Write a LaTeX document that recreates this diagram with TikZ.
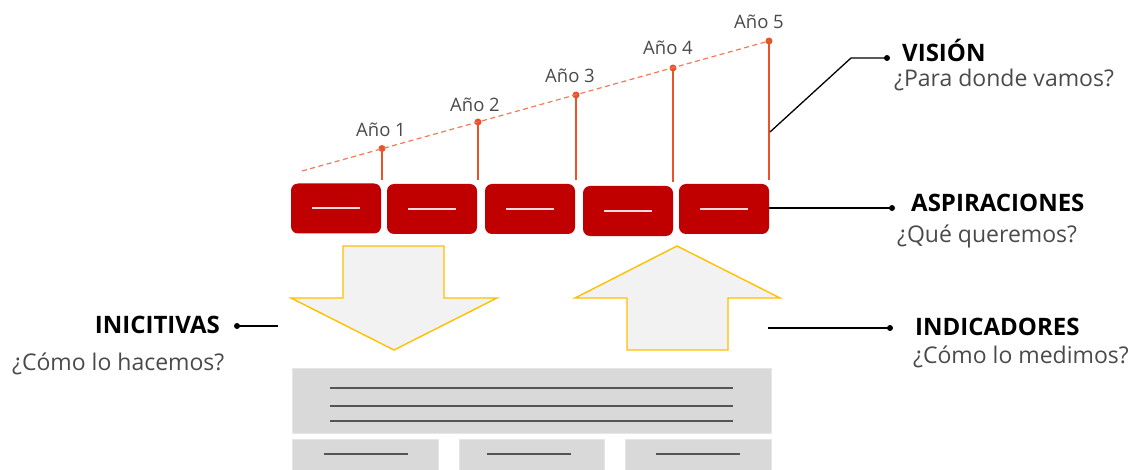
\documentclass[tikz,border=0pt]{standalone}
\usepackage{fontspec}
\setmainfont{Open Sans}
\usetikzlibrary{calc}
\definecolor{aspred}{HTML}{C00000}
\definecolor{yearred}{HTML}{E9532B}
\definecolor{yeardashc}{HTML}{F07A5A}
\definecolor{arrowyellow}{HTML}{FFC000}
\definecolor{arrowfill}{HTML}{F2F2F2}
\definecolor{panelgray}{HTML}{D9D9D9}
\definecolor{paneledge}{HTML}{E6E6E6}
\definecolor{linegray}{HTML}{555555}
\definecolor{lighttext}{HTML}{4A4A4A}
\begin{document}
\begin{tikzpicture}[x=1pt,y=-1pt,
  aspbox/.style={fill=aspred, rounded corners=7pt, minimum width=90pt, minimum height=50pt, inner sep=0pt},
  aspdash/.style={white!85!aspred, line width=2pt},
  yeardot/.style={circle, fill=yearred, inner sep=0pt, minimum size=7pt},
  yearline/.style={yearred, line width=1.4pt},
  yeardash/.style={yeardashc, line width=1.2pt, dash pattern=on 5pt off 3.5pt},
  yearlabel/.style={anchor=base, text=lighttext, font=\fontsize{18.5}{22}\selectfont, inner sep=0pt},
  labeldot/.style={circle, fill=black, inner sep=0pt, minimum size=6pt},
  leader/.style={black, line width=1.3pt},
  headtext/.style={inner sep=0pt, text=black, font=\fontsize{24}{28}\selectfont\bfseries},
  subtext/.style={inner sep=0pt, text=lighttext, font=\fontsize{23}{27}\selectfont},
  bigarrow/.style={fill=arrowfill, draw=arrowyellow, line width=1.4pt, line join=miter},
  panel/.style={fill=panelgray, draw=paneledge, line width=0.8pt, inner sep=0pt},
  panelline/.style={linegray, line width=1.8pt}
]
\useasboundingbox (0,0) rectangle (1139,470);

% aspiration boxes
\node[aspbox] (b1) at (336,208.5) {};
\node[aspbox] (b2) at (432,209) {};
\node[aspbox] (b3) at (530,209) {};
\node[aspbox] (b4) at (628,211) {};
\node[aspbox] (b5) at (724,209) {};
\foreach \b in {b1,b2,b3,b4,b5}{
  \draw[aspdash] ([xshift=-24pt]\b.center) -- ([xshift=24pt]\b.center);
}

% year dots and labels
\coordinate (dstart) at (302,171);
\node[yeardot] (y1) at (382,148.5) {};
\node[yeardot] (y2) at (478,122) {};
\node[yeardot] (y3) at (576,95) {};
\node[yeardot] (y4) at (673,68) {};
\node[yeardot] (y5) at (769,41) {};
\draw[yeardash] (dstart) -- (y5.center);
\draw[yearline] (y1.center) -- ($(y1 |- b1.north)+(0,-3)$);
\draw[yearline] (y2.center) -- ($(y2 |- b2.north)+(0,-4)$);
\draw[yearline] (y3.center) -- ($(y3 |- b3.north)+(0,-4)$);
\draw[yearline] (y4.center) -- ($(y4 |- b4.north)+(0,-4)$);
\draw[yearline] (y5.center) -- ($(y5 |- b5.north)+(0,-4)$);
\node[yearlabel] (l1) at (381,137) {Año 1};
\node[yearlabel] (l2) at (475,112) {Año 2};
\node[yearlabel] (l3) at (570,83) {Año 3};
\node[yearlabel] (l4) at (668,55) {Año 4};
\node[yearlabel] (l5) at (759,29) {Año 5};

% VISION
\coordinate (vjoin) at (770,132);
\coordinate (vbend) at (851,58);
\node[labeldot] (vdot) at (887,58) {};
\draw[leader] (vjoin) -- (vbend) -- (vdot.center);
\node[headtext, anchor=base west] (vis) at (902,62) {VISIÓN};
\node[subtext, anchor=base west] (vissub) at (894,87) {¿Para donde vamos?};

% ASPIRACIONES
\node[labeldot] (adot) at (892,208) {};
\draw[leader] (b5.east |- adot) -- (adot.center);
\node[headtext, anchor=base west] (asp) at (911,212) {ASPIRACIONES};
\node[subtext, anchor=base west] (aspsub) at (897,243) {¿Qué queremos?};

% arrows
\draw[bigarrow] (343,246) -- (444,246) -- (444,298) -- (497,298) -- (394,350) -- (291,298) -- (343,298) -- cycle;
\draw[bigarrow] (677,246) -- (780,298) -- (728,298) -- (728,350) -- (627,350) -- (627,298) -- (575,298) -- cycle;

% INICITIVAS
\node[labeldot] (idot) at (237,326) {};
\coordinate (iend) at (278,326);
\draw[leader] (idot.center) -- (iend);
\node[headtext, anchor=base east] (ini) at (220,333) {INICITIVAS};
\node[subtext, anchor=base west] (inisub) at (12,370) {¿Cómo lo hacemos?};

% INDICADORES
\coordinate (nstart) at (768,328);
\node[labeldot] (ndot) at (890,328) {};
\draw[leader] (nstart) -- (ndot.center);
\node[headtext, anchor=base west] (ind) at (915,335) {INDICADORES};
\node[subtext, anchor=base west] (indsub) at (913,363) {¿Cómo lo medimos?};

% panels
\node[panel, minimum width=479pt, minimum height=65pt] (p0) at (531.5,400.5) {};
\draw[panelline] (330,388) -- (733,388);
\draw[panelline] (330,406) -- (733,406);
\draw[panelline, line width=1.5pt] (330,421) -- (733,421);
\node[panel, minimum width=146pt, minimum height=40pt] (pa) at (365,459) {};
\node[panel, minimum width=145pt, minimum height=40pt] (pb) at (531.5,459) {};
\node[panel, minimum width=146pt, minimum height=40pt] (pc) at (698,459) {};
\draw[panelline, line width=1.5pt] (324,454) -- (408,454);
\draw[panelline, line width=1.5pt] (487,454) -- (571,454);
\draw[panelline, line width=1.5pt] (656,454) -- (740,454);
\end{tikzpicture}
\end{document}
